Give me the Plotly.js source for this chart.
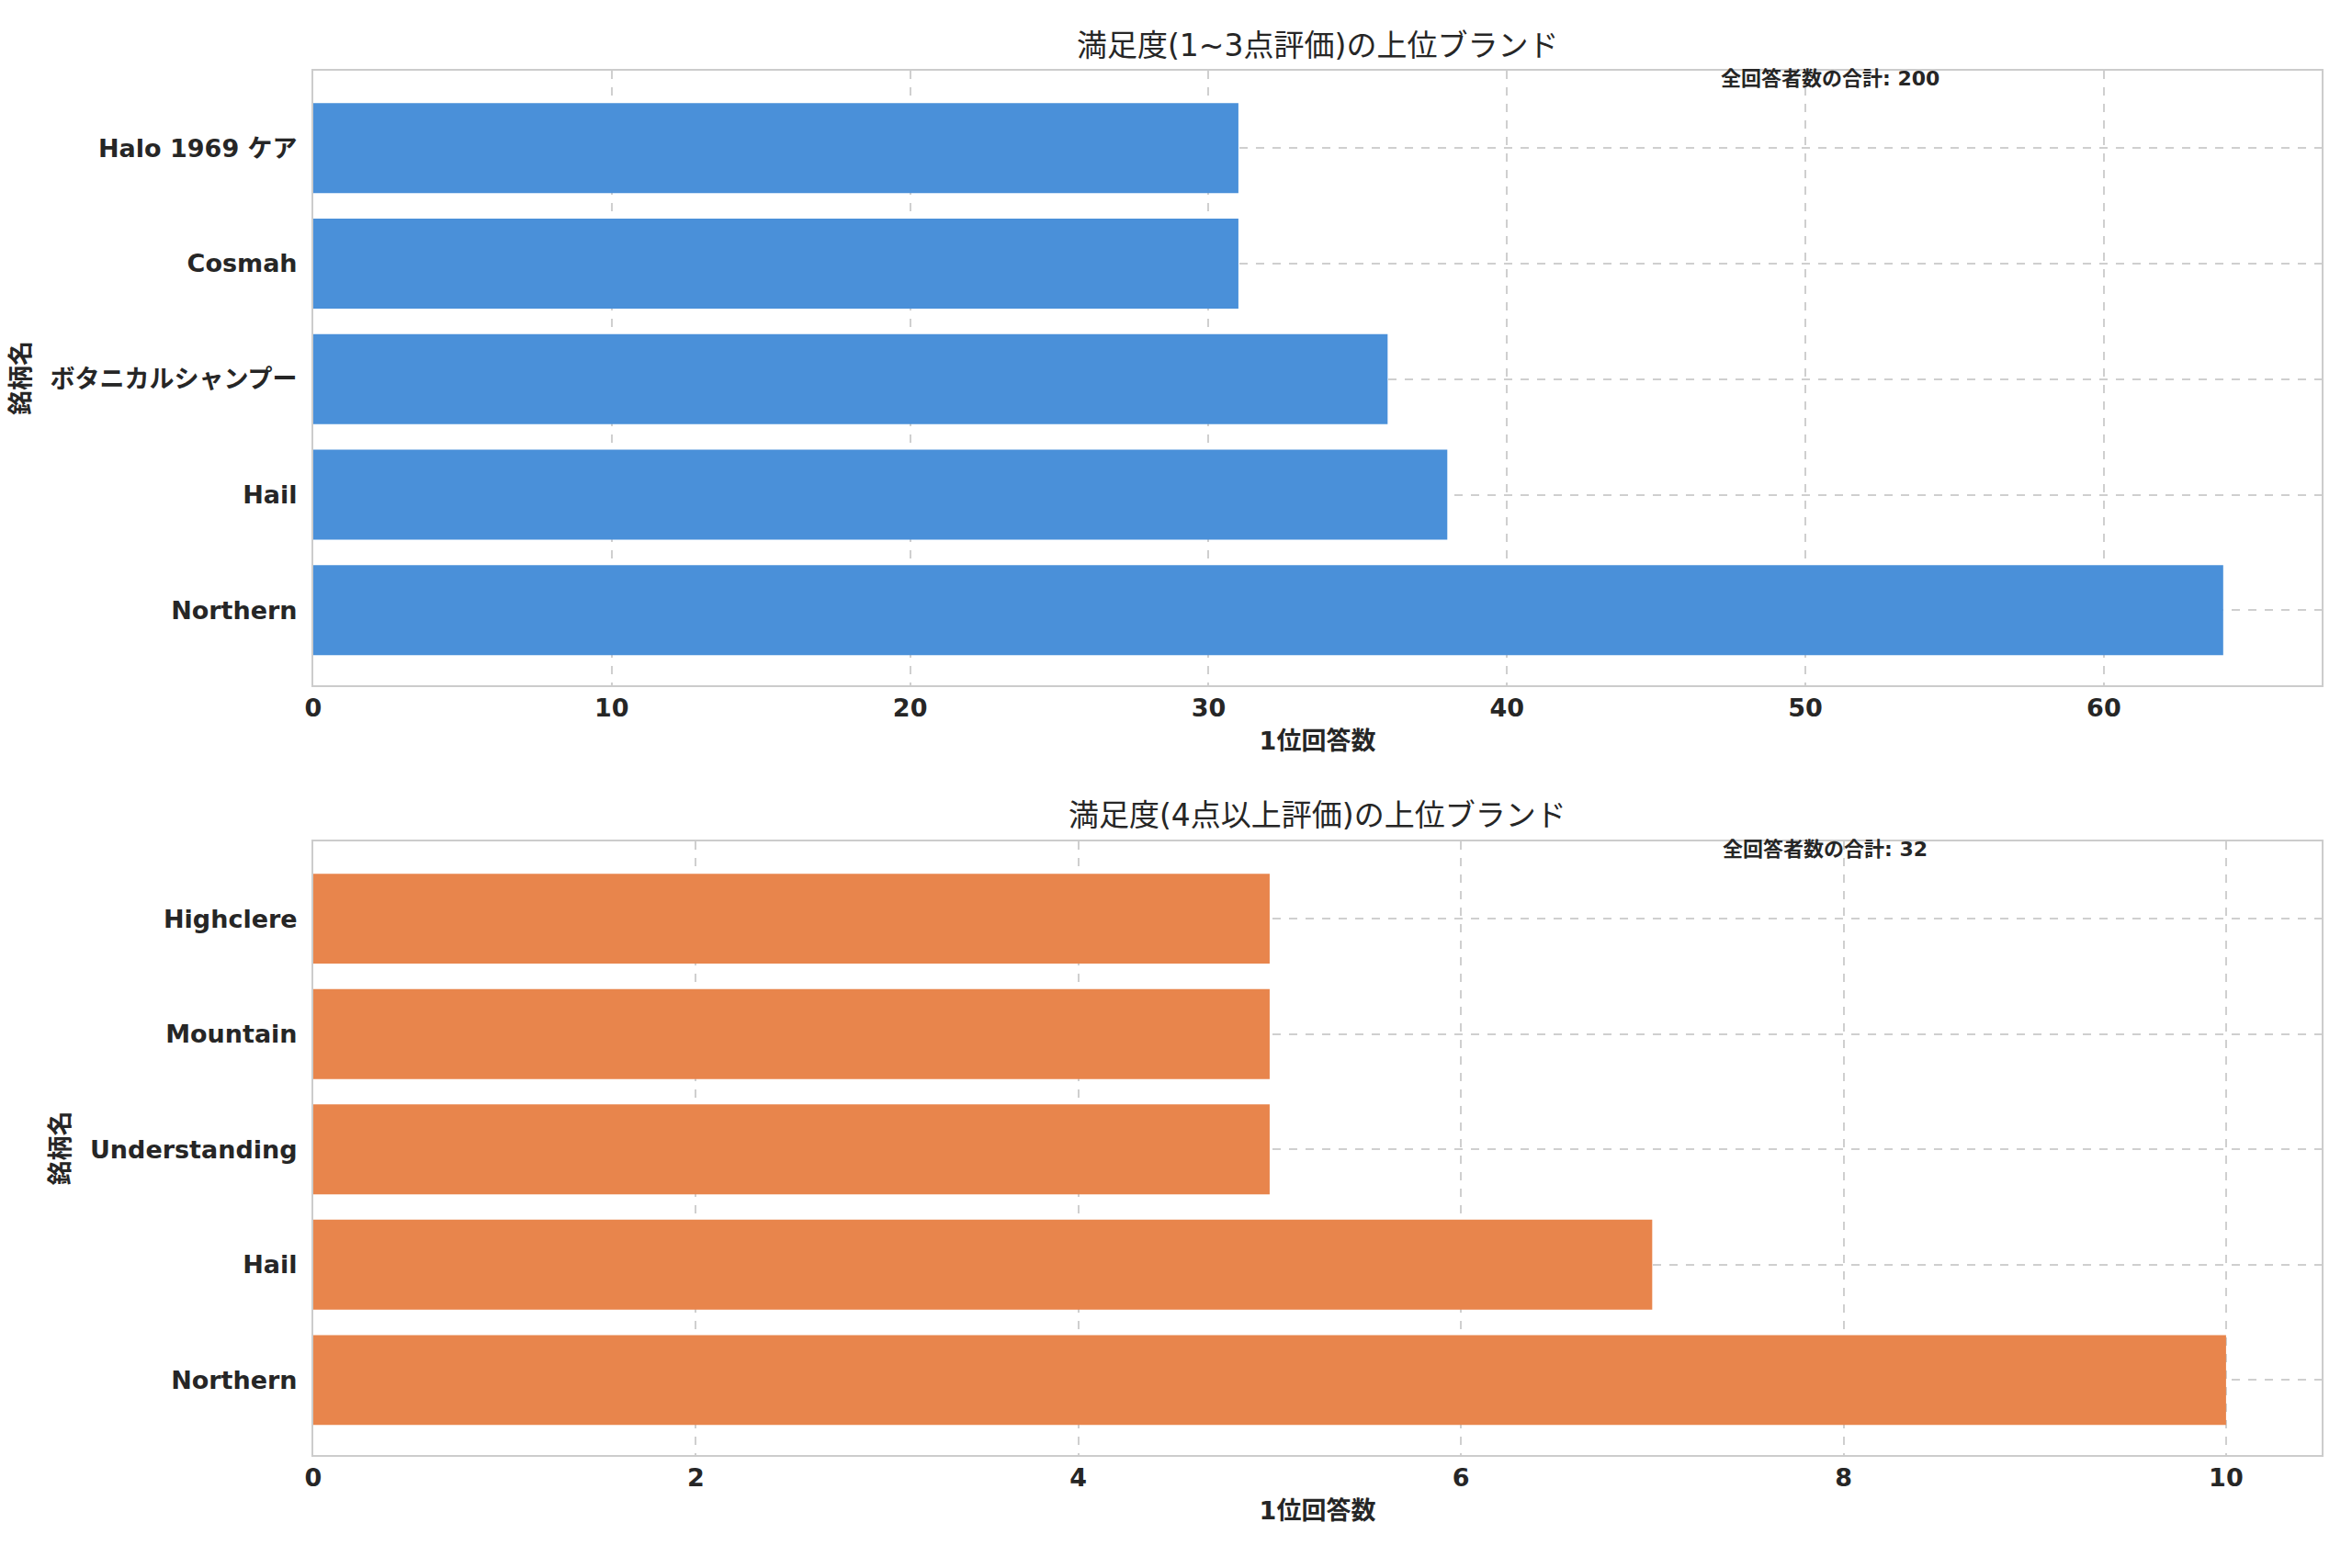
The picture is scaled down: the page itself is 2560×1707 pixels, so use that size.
<!DOCTYPE html>
<html><head><meta charset="utf-8">
<script src="https://cdn.plot.ly/plotly-3.0.1.min.js"></script>
<style>html,body{margin:0;padding:0;background:#fff}#c{width:2560px;height:1707px}</style>
</head><body><div id="c"></div>
<script>
const topCats = ["Northern", "Hail", "ボタニカルシャンプー", "Cosmah", "Halo 1969 ケア"];
const topVals = [64, 38, 36, 31, 31];
const botCats = ["Northern", "Hail", "Understanding", "Mountain", "Highclere"];
const botVals = [10, 7, 5, 5, 5];
const topTitle = "満足度(1~3点評価)の上位ブランド";
const botTitle = "満足度(4点以上評価)の上位ブランド";
const xTitle = "1位回答数";
const yTitle = "銘柄名";
const topNote = "全回答者数の合計: 200";
const botNote = "全回答者数の合計: 32";

const F = "DejaVu Sans, Noto Sans CJK JP, sans-serif";
const tickFont = {family: F, size: 27, color: "#262626", weight: "bold"};
function xa(range, dtick, anchor) {
  return {range: range, dtick: dtick, anchor: anchor, showgrid: true, gridcolor: "#cfcfcf", griddash: "dash", gridwidth: 2,
    showline: true, linecolor: "#cccccc", linewidth: 2, mirror: true, zeroline: false, ticks: "",
    tickfont: tickFont, title: {text: xTitle, font: {family: F, size: 27, color: "#262626", weight: "bold"}, standoff: 12}};
}
function ya(anchor) {
  return {range: [-0.65, 4.67], anchor: anchor, showgrid: true, gridcolor: "#cfcfcf", griddash: "dash", gridwidth: 2,
    showline: true, linecolor: "#cccccc", linewidth: 2, mirror: true, zeroline: false, ticks: "", ticklabelstandoff: 10,
    tickfont: tickFont, title: {text: yTitle, font: {family: F, size: 27, color: "#262626", weight: "bold"}, standoff: 14}};
}
const data = [
  {type: "bar", orientation: "h", x: topVals, y: topCats, marker: {color: "#4a90d9"}, width: 0.78, xaxis: "x", yaxis: "y", hoverinfo: "none"},
  {type: "bar", orientation: "h", x: botVals, y: botCats, marker: {color: "#e8854c"}, width: 0.78, xaxis: "x2", yaxis: "y2", hoverinfo: "none"}
];
const layout = {
  width: 2560, height: 1707, showlegend: false, paper_bgcolor: "#fff", plot_bgcolor: "#fff",
  margin: {l: 0, r: 0, t: 0, b: 0},
  xaxis: Object.assign(xa([0, 67.3], 10, "y"), {domain: [341/2560, 2527/2560]}),
  yaxis: Object.assign(ya("x"), {domain: [1 - 746/1707, 1 - 77/1707]}),
  xaxis2: Object.assign(xa([0, 10.5], 2, "y2"), {domain: [341/2560, 2527/2560]}),
  yaxis2: Object.assign(ya("x2"), {domain: [1 - 1584/1707, 1 - 916/1707]}),
  annotations: [
    {text: topTitle, xref: "paper", yref: "paper", x: 0.56, y: 1 - 49/1707, yanchor: "middle", showarrow: false, font: {family: F, size: 33, color: "#262626"}},
    {text: botTitle, xref: "paper", yref: "paper", x: 0.56, y: 1 - 887/1707, yanchor: "middle", showarrow: false, font: {family: F, size: 33, color: "#262626"}},
    {text: topNote, xref: "x", yref: "y", x: 47.1, y: 4.6, xanchor: "left", yanchor: "middle", showarrow: false, font: {family: F, size: 22, color: "#262626", weight: "bold"}},
    {text: botNote, xref: "x2", yref: "y2", x: 7.36, y: 4.6, xanchor: "left", yanchor: "middle", showarrow: false, font: {family: F, size: 22, color: "#262626", weight: "bold"}}
  ]
};
Plotly.newPlot("c", data, layout, {staticPlot: true});
</script></body></html>
